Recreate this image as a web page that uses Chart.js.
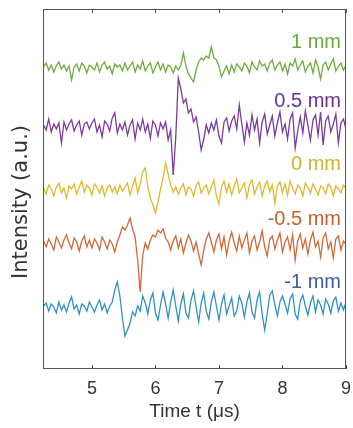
<!DOCTYPE html>
<html>
<head>
<meta charset="utf-8">
<script src="https://cdn.jsdelivr.net/npm/chart.js@4/dist/chart.umd.min.js"></script>
<style>
  html, body { margin: 0; padding: 0; background: #fff; }
  #wrap { width: 353px; height: 428px; }
</style>
</head>
<body>
<div id="wrap"><canvas id="chart"></canvas></div>
<script>
// sample grid of the scope traces (us)
const t0 = 4.24
const dt = 0.04

const labels = ['1 mm', '0.5 mm', '0 mm', '-0.5 mm', '-1 mm']
const offsets = [30.1, 24.2, 17.9, 12.4, 6.1]
const xTicks = [5, 6, 7, 8, 9]

const s1mm = [
    0.1,0.5,-0.2,0.3,-0.4,0.2,0.6,-0.1,0.3,-0.3,
    0.2,-1.2,0.1,0.4,-0.3,0.5,0.2,-0.5,0.3,0.1,
    -0.2,0.5,-0.4,0.3,0.6,-0.1,0.2,-0.6,0.4,0.1,
    0.3,-0.3,0.5,-0.2,0.2,0.6,-0.4,0.3,-0.1,0.7,
    -0.3,0.2,0.5,-0.5,0.1,0.6,-0.2,0.4,-0.4,0.3,
    0.1,-0.5,0.2,-0.2,0.3,1.5,0.2,-0.6,-1.0,-1.4,
    -0.2,0.6,1.0,0.8,1.2,1.0,2.1,1.0,0.8,0.2,
    -0.9,-0.3,0.2,-0.6,0.3,-0.4,0.4,0.1,-0.3,0.5,
    0.2,-0.5,0.6,0.1,-0.2,0.7,0.2,0.4,-0.3,0.5,
    0.8,-0.2,0.3,0.6,-0.3,0.4,-0.6,0.5,0.2,0.9,
    -0.2,0.3,0.7,-0.4,0.2,0.5,-0.5,0.8,0.1,-1.1,
    0.3,0.6,-0.2,0.4,0.9,-0.3,0.2,0.5,-0.2,0.3
]
const s05mm = [
    0.2,-0.3,0.8,-0.5,0.3,-0.2,0.4,-1.6,0.5,-0.3,
    0.3,0.7,-0.4,0.2,0.6,-0.8,0.3,0.5,-0.2,0.4,
    0.8,-0.5,0.2,-1.0,0.6,0.3,-0.4,0.9,1.4,-0.6,
    0.3,-0.3,0.5,-0.8,0.2,0.7,-1.2,0.4,-0.3,0.8,
    -0.5,0.3,-1.1,0.6,0.2,-0.9,0.4,-0.2,0.5,-1.3,
    -0.3,-4.8,-1.0,4.9,3.8,2.4,2.8,1.4,1.8,0.5,
    1.0,-0.5,-2.3,-1.2,0.2,-0.6,0.4,-0.3,0.7,-0.9,
    -1.6,0.5,0.9,-0.4,0.6,1.1,-0.2,2.2,0.3,-1.5,
    0.4,-0.8,1.2,-0.3,0.8,-1.6,0.5,1.3,-0.7,0.2,
    1.1,-0.9,0.4,1.5,-0.5,0.3,-1.2,0.8,1.4,-2.1,
    -0.4,1.0,-0.6,1.6,0.2,-1.3,0.7,1.2,-0.8,1.5,
    -1.8,0.6,1.1,-0.5,0.3,1.3,-1.6,0.4,0.8,-0.2
]
const s0mm = [
    0.2,-0.4,0.5,0.1,-0.6,0.3,0.7,-0.3,0.2,-0.8,
    0.4,0.1,0.6,-0.4,0.3,0.9,-0.2,0.5,0.2,-0.5,
    0.6,0.3,-0.3,0.4,-0.6,0.2,0.5,-0.2,0.3,-0.4,
    0.5,-0.1,0.3,0.7,-0.5,0.4,1.2,-0.3,0.6,1.8,
    2.2,0.3,-0.8,-1.5,-2.3,-1.2,0.1,1.2,2.7,1.6,
    0.5,-0.2,0.3,-0.4,0.2,0.6,-0.5,0.3,0.1,-0.6,
    0.4,0.8,-0.3,0.2,0.5,-0.4,0.3,1.0,-0.6,-1.4,
    0.3,0.9,-0.2,0.6,-0.5,0.4,1.1,-0.3,0.2,0.7,
    -0.8,0.5,1.0,-0.4,0.3,0.8,-0.6,0.4,0.9,-0.2,
    0.5,-1.3,0.4,0.8,-0.3,0.6,-0.5,0.9,0.2,-0.4,
    0.5,0.2,-0.6,0.7,0.3,-0.3,0.6,0.1,-0.5,0.4,
    0.2,-0.4,0.6,0.3,-0.6,0.4,0.1,-0.3,0.5,0.2
]
const sm05mm = [
    0.4,-0.2,0.6,0.1,-0.5,0.8,0.3,-0.3,0.5,1.0,
    0.2,-0.4,0.7,0.3,-0.6,0.4,0.9,-0.2,0.5,-0.3,
    0.6,0.2,-0.5,0.8,0.3,-0.4,0.5,0.1,-0.7,0.3,
    1.0,1.8,1.5,2.0,2.7,1.6,0.8,-1.5,-4.7,-1.0,
    0.2,-0.4,0.5,1.0,0.8,1.5,1.2,1.6,0.7,0.3,
    -0.5,0.4,0.9,-0.3,0.6,-0.8,0.2,1.0,0.4,-0.6,
    0.3,-0.9,-2.0,-0.5,0.6,1.2,0.3,-0.7,0.5,1.1,
    -0.4,0.8,-1.0,0.4,1.3,0.2,-0.6,0.9,-0.3,0.5,
    1.2,-0.8,0.4,0.9,-0.5,0.3,1.4,-0.2,-1.1,0.6,
    0.9,-0.4,0.5,1.2,-0.7,0.3,0.8,-0.5,1.0,-1.5,
    0.4,1.1,-0.3,0.6,-0.9,0.5,1.3,-0.2,0.4,-1.2,
    0.7,1.2,-0.4,0.3,-1.3,0.6,0.9,-0.5,0.4,0.1
]
const sm1mm = [
    0.2,0.5,-0.3,0.4,0.1,-0.5,0.6,-0.2,0.3,-0.4,
    0.5,1.1,-0.1,0.3,-0.6,0.4,0.2,-0.3,0.6,0.1,
    -0.4,0.3,0.8,-0.2,0.4,-0.5,0.2,0.6,1.8,2.6,
    1.2,-1.0,-2.8,-2.2,-1.5,-0.4,-0.8,0.2,-0.3,1.2,
    0.5,-0.6,0.8,1.5,-0.5,-1.2,0.3,1.6,0.4,-1.0,
    0.6,1.8,0.2,-1.3,0.4,1.4,-0.5,-1.0,0.8,1.7,
    0.1,-1.4,0.5,1.5,-0.3,-1.1,0.6,1.6,0.2,-1.2,
    0.4,1.3,-0.6,0.2,1.0,-0.8,-0.3,1.2,0.5,-0.9,
    0.6,1.5,-0.4,-1.0,0.8,1.6,-0.6,-2.2,-0.5,1.3,
    1.7,0.3,-0.8,0.6,1.2,0.4,-0.5,0.9,1.4,-0.6,
    -1.1,0.7,1.3,0.2,-0.7,0.5,1.2,-0.4,0.8,0.3,
    -0.6,0.9,0.4,-0.5,0.7,1.1,-0.3,0.5,-0.2,0.6
]

const signals = [s1mm, s05mm, s0mm, sm05mm, sm1mm]
const lineColors = ['#6cad3e', '#7b3a9f', '#e2b92c', '#d4683a', '#2f92c0']
const textColors = ['#6aaa3c', '#6a2e95', '#cdb52a', '#c8602c', '#3b5ba8']

let font = "'Liberation Sans', Arial, sans-serif"
let wideFont = "'DejaVu Sans', sans-serif"

let datasets = signals.map(function(s, k) {
    return {
        label: labels[k],
        data: s.map((v, i) => ({ x: +(t0 + i * dt).toFixed(2), y: v + offsets[k] })),
        borderColor: lineColors[k],
        borderWidth: 1.3,
        pointRadius: 0,
        tension: 0
    }
})

let frame = {
    id: 'frame',
    afterDatasetsDraw(chart) {
        let ctx = chart.ctx
        let a = chart.chartArea
        let x = chart.scales.x
        let y = chart.scales.y
        ctx.save()
        // trace labels
        ctx.font = '20px ' + font
        ctx.textAlign = 'right'
        ctx.textBaseline = 'middle'
        for (let k = 0; k < labels.length; k++) {
            ctx.fillStyle = textColors[k]
            ctx.fillText(labels[k], x.getPixelForValue(9) - 5, y.getPixelForValue(offsets[k] + 2.6))
        }
        // box + inward ticks
        ctx.strokeStyle = '#555'
        ctx.lineWidth = 1
        ctx.strokeRect(Math.round(a.left) + 0.5, Math.round(a.top) + 0.5,
            Math.round(a.right - a.left) - 1, Math.round(a.bottom - a.top) - 1)
        ctx.beginPath()
        xTicks.forEach(function(t) {
            let px = Math.round(x.getPixelForValue(t)) + 0.5
            ctx.moveTo(px, a.bottom)
            ctx.lineTo(px, a.bottom - 4)
            ctx.moveTo(px, a.top)
            ctx.lineTo(px, a.top + 4)
        })
        ctx.stroke()
        // y title
        ctx.translate(22, 202)
        ctx.rotate(-Math.PI / 2)
        ctx.font = '21px ' + wideFont
        ctx.fillStyle = '#333'
        ctx.textAlign = 'center'
        ctx.fillText('Intensity (a.u.)', 0, 0)
        ctx.restore()
    }
}

new Chart(document.getElementById('chart'), {
    type: 'line',
    data: { datasets: datasets },
    options: {
        responsive: true,
        maintainAspectRatio: false,
        animation: false,
        layout: { padding: { top: 9, right: 7, bottom: 0, left: 0 } },
        plugins: { legend: { display: false }, tooltip: { enabled: false } },
        scales: {
            x: {
                type: 'linear',
                min: 4.23,
                max: 9,
                afterBuildTicks: function(scale) { scale.ticks = xTicks.map(v => ({ value: v })) },
                afterFit: function(scale) { scale.height = 59; scale.paddingRight = 0 },
                grid: { display: false, drawTicks: false, tickLength: 0 },
                border: { display: false },
                ticks: { color: '#333', padding: 9, font: { family: font, size: 18 } },
                title: { display: true, text: 'Time t (μs)', color: '#333', padding: { top: 0, bottom: 5 }, font: { family: font, size: 19 } }
            },
            y: {
                min: 0,
                max: 36,
                afterFit: function(scale) { scale.width = 43 },
                grid: { display: false },
                border: { display: false },
                ticks: { display: false }
            }
        }
    },
    plugins: [frame]
})
</script>
</body>
</html>
